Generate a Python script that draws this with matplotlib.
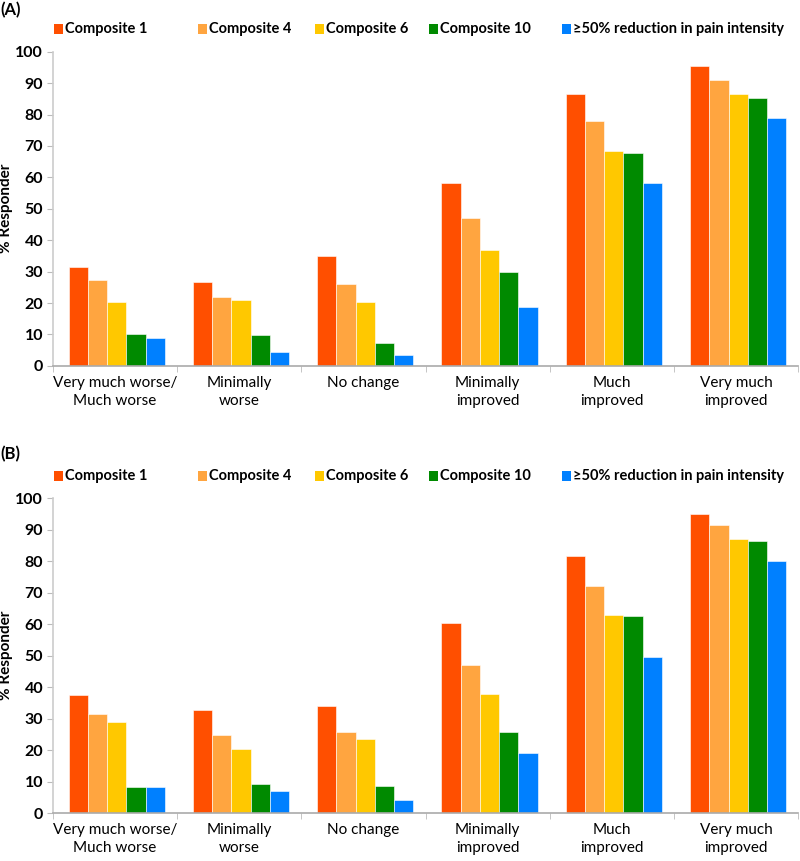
import numpy as np
import matplotlib.pyplot as plt
from matplotlib.patches import Rectangle

categories = ["Very much worse/\nMuch worse", "Minimally\nworse", "No change",
              "Minimally\nimproved", "Much\nimproved", "Very much\nimproved"]
series = ["Composite 1", "Composite 4", "Composite 6", "Composite 10",
          "\u226550% reduction in pain intensity"]
colors = ["#FF4F00", "#FFA540", "#FFC800", "#008A00", "#0080FF"]

# panel A values (% responder), one list per series
a_comp1 = [31.5, 26.6, 34.9, 58.1, 86.6, 95.3]
a_comp4 = [27.2, 22.0, 26.0, 47.2, 77.8, 91.0]
a_comp6 = [20.3, 21.0, 20.3, 36.8, 68.3, 86.4]
a_comp10 = [10.1, 9.8, 7.4, 30.0, 67.6, 85.4]
a_pain50 = [8.9, 4.3, 3.6, 18.6, 58.1, 79.0]

# panel B values
b_comp1 = [37.4, 32.9, 34.0, 60.5, 81.8, 95.0]
b_comp4 = [31.4, 24.7, 25.9, 46.9, 72.2, 91.5]
b_comp6 = [28.9, 20.4, 23.5, 37.9, 63.0, 87.2]
b_comp10 = [8.3, 9.3, 8.6, 25.9, 62.6, 86.6]
b_pain50 = [8.3, 7.1, 4.3, 19.1, 49.7, 80.2]

FONT = ["Lato", "DejaVu Sans"]
plt.rcParams["font.family"] = FONT

W, H = 800, 861
fig = plt.figure(figsize=(W / 100, H / 100), dpi=100)

# legend entry left edges in pixels (Excel-style uneven spacing)
LEG_X = [54, 198, 315, 429, 562]


def draw_legend(y_px):
    for xp, c, lab in zip(LEG_X, colors, series):
        fig.add_artist(Rectangle((xp / W, 1 - (y_px + 5) / H), 9 / W, 10 / H,
                                 transform=fig.transFigure, facecolor=c,
                                 edgecolor="none"))
        fig.text((xp + 11) / W, 1 - y_px / H, lab, fontsize=10.5,
                 fontweight="bold", va="center", ha="left")


def draw_panel(ax, data):
    x = np.arange(len(categories))
    w = 0.155
    for i, vals in enumerate(data):
        ax.bar(x + (i - 2) * w + 0.015, vals, width=w, color=colors[i],
               edgecolor="white", linewidth=0.4, zorder=2)
    ax.set_xlim(-0.5, len(categories) - 0.5)
    ax.set_ylim(0, 100)
    ax.set_yticks(range(0, 101, 10))
    ax.set_yticklabels([str(v) for v in range(0, 101, 10)],
                       fontsize=11.5, fontweight="bold")
    ax.set_xticks(x)
    ax.set_xticklabels(categories, fontsize=11, linespacing=1.4)
    ax.tick_params(axis="x", length=0, pad=7)
    ax.set_xticks(np.arange(-0.5, len(categories), 1.0), minor=True)
    ax.tick_params(axis="x", which="minor", length=4, color="#BBBBBB", direction="out")
    ax.tick_params(axis="y", length=4, color="#BBBBBB", direction="out", pad=3)
    for s in ["top", "right"]:
        ax.spines[s].set_visible(False)
    ax.spines["left"].set_color("#CCCCCC")
    ax.spines["bottom"].set_color("#AAAAAA")
    ax.spines["left"].set_linewidth(1.2)
    ax.spines["bottom"].set_linewidth(1.2)
    ax.set_ylabel("% Responder", fontsize=11, fontweight="bold")
    ax.yaxis.set_label_coords(-0.053, 0.5)


ax_a = fig.add_axes([0.066, 0.575, 0.932, 0.365])
draw_panel(ax_a, [a_comp1, a_comp4, a_comp6, a_comp10, a_pain50])
draw_legend(29)

ax_b = fig.add_axes([0.066, 0.0557, 0.932, 0.3655])
draw_panel(ax_b, [b_comp1, b_comp4, b_comp6, b_comp10, b_pain50])
draw_legend(476)

fig.text(0.0, 0.988, "(A)", fontsize=12, fontweight="bold", va="center", ha="left")
fig.text(0.0, 0.472, "(B)", fontsize=12, fontweight="bold", va="center", ha="left")

fig.savefig("out.png", dpi=100)
